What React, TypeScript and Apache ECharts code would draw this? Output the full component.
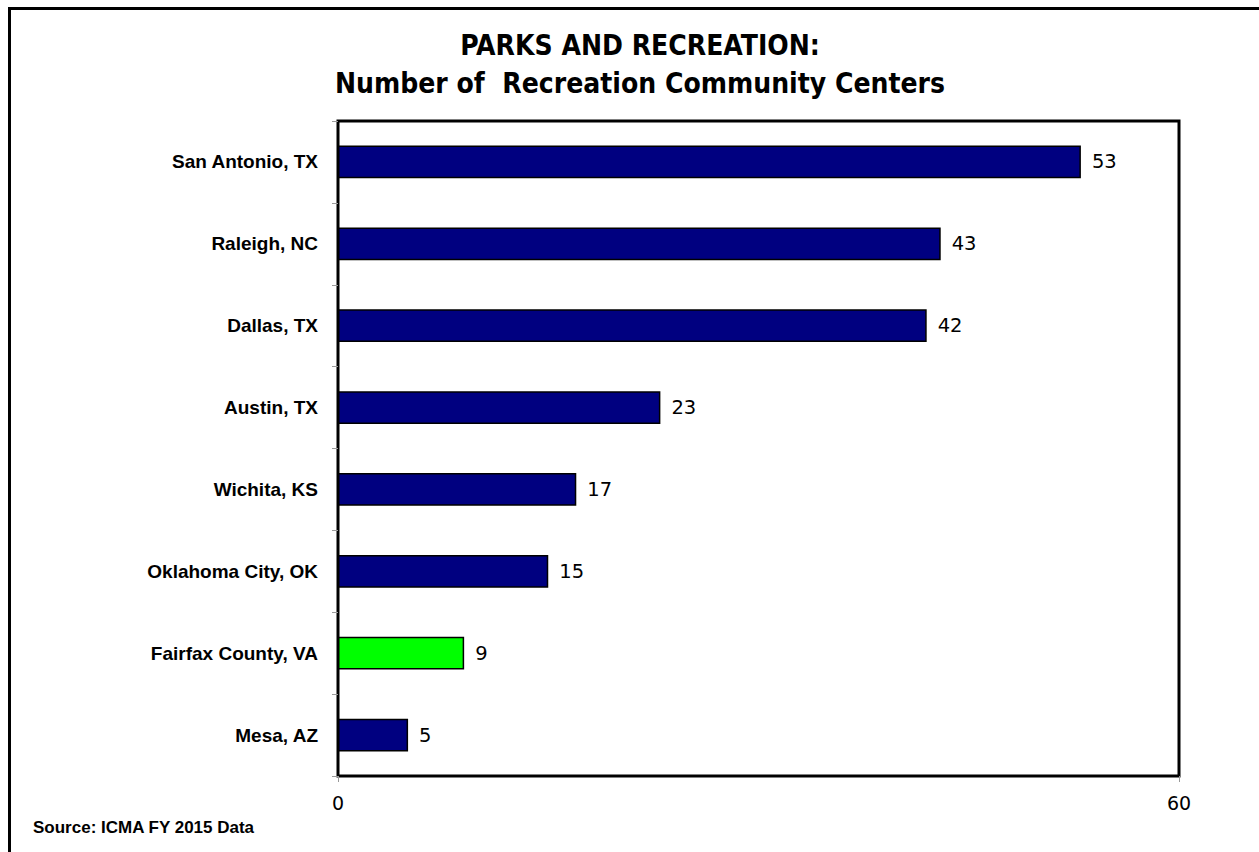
import React, { useEffect, useRef } from "react";
import * as echarts from "echarts";

const titleLines = ["PARKS AND RECREATION:", "Number of  Recreation Community Centers"];
const categories = [
  "San Antonio, TX",
  "Raleigh, NC",
  "Dallas, TX",
  "Austin, TX",
  "Wichita, KS",
  "Oklahoma City, OK",
  "Fairfax County, VA",
  "Mesa, AZ",
];
const values = [53, 43, 42, 23, 17, 15, 9, 5];
const highlight = "Fairfax County, VA";
const axisMin = 0;
const axisMax = 60;
const sourceNote = "Source: ICMA FY 2015 Data";

export default function App() {
  const ref = useRef<HTMLDivElement>(null);
  useEffect(() => {
    if (!ref.current) return;
    const chart = echarts.init(ref.current, null, { renderer: "svg" });
    const font = "'Liberation Sans', Arial, sans-serif";
    const wide = "'DejaVu Sans', Verdana, sans-serif";
    const cond = "'DejaVu Sans Condensed', 'DejaVu Sans', sans-serif";
    chart.setOption({
      animation: false,
      backgroundColor: "#fff",
      title: {
        text: titleLines.join("\n"),
        left: 635,
        textAlign: "center",
        top: 21,
        textStyle: {
          fontFamily: cond,
          fontSize: 28,
          fontWeight: "bold",
          color: "#000",
          lineHeight: 38,
        },
      },
      grid: {
        left: 338,
        top: 121,
        width: 841,
        height: 655,
        show: true,
        borderColor: "#000",
        borderWidth: 3,
        backgroundColor: "transparent",
      },
      xAxis: {
        type: "value",
        min: axisMin,
        max: axisMax,
        interval: axisMax - axisMin,
        splitLine: { show: false },
        axisLine: { show: false },
        axisTick: { show: true, length: 6, lineStyle: { color: "#999", width: 1 } },
        axisLabel: { fontFamily: wide, fontSize: 19, color: "#000", margin: 17 },
      },
      yAxis: {
        type: "category",
        data: categories,
        inverse: true,
        axisLine: { show: false },
        axisTick: { show: true, length: 6, lineStyle: { color: "#999", width: 1 } },
        axisLabel: {
          fontFamily: font,
          fontSize: 19,
          fontWeight: "bold",
          color: "#000",
          margin: 20,
        },
      },
      series: [
        {
          type: "bar",
          barWidth: "40%",
          data: values.map((v, i) => ({
            value: v,
            itemStyle: { color: categories[i] === highlight ? "#00FF00" : "#000080" },
          })),
          itemStyle: { borderColor: "#000", borderWidth: 1.5 },
          label: {
            show: true,
            position: "right",
            distance: 11,
            fontFamily: wide,
            fontSize: 19.5,
            color: "#000",
          },
        },
      ],
      graphic: [
        {
          type: "polyline",
          shape: { points: [[9.5, 852], [9.5, 8.5], [1259, 8.5]] },
          style: { stroke: "#000", lineWidth: 3, fill: "none" },
          silent: true,
        },
        {
          type: "text",
          left: 33,
          top: 819,
          style: {
            text: sourceNote,
            fontFamily: font,
            fontSize: 17,
            fontWeight: "bold",
            fill: "#000",
          },
        },
      ],
    });
    return () => chart.dispose();
  }, []);
  return (
    <div
      ref={ref}
      style={{ position: "absolute", left: 0, top: 0, width: 1259, height: 852 }}
    />
  );
}
